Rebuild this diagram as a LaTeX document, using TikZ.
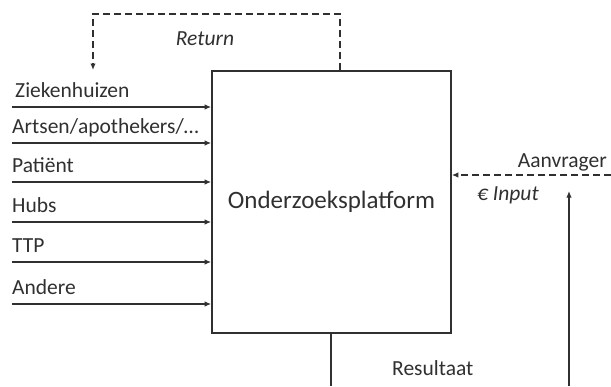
\documentclass[tikz,border=0pt]{standalone}
\usepackage{fontspec}
\setmainfont{Carlito}
\usetikzlibrary{arrows.meta}
\definecolor{ink}{HTML}{303030}
\begin{document}
\begin{tikzpicture}[x=1pt,y=-1pt,
  every node/.style={text=ink, inner sep=0pt, font=\fontsize{21.5}{24}\selectfont},
  tip/.style={-{Latex[length=6.5pt,width=5.5pt]}},
  flow/.style={draw=ink, line width=1.7pt, tip},
  plain/.style={draw=ink, line width=1.7pt},
  dashflow/.style={draw=ink, line width=1.3pt, dash pattern=on 7pt off 4pt},
  lbl/.style={anchor=base west},
  platformbox/.style={draw=ink, line width=1.7pt, rectangle, minimum width=239pt, minimum height=262pt, font=\fontsize{25}{28}\selectfont}]
\useasboundingbox (0,0) rectangle (611,386);

% central platform
\node[platformbox] (platform) at (331.5,202) {Onderzoeksplatform};

% data sources on the left
\foreach \name/\txt/\y/\lx in {zh/Ziekenhuizen/107/15, ar/Artsen\slash apothekers\slash \ldots/143/12,
    pa/Patiënt/182/12, hu/Hubs/222/12, tt/TTP/262/12, an/Andere/304/12} {
  \coordinate (\name) at (12,\y);
  \node[lbl] (\name-l) at (\lx,\y-9.5) {\txt};
  \draw[flow] (\name) -- (\name -| platform.west);
}

% return flow back to the sources
\coordinate (rtop) at (340,14);
\coordinate (ret) at (93,70);
\draw[dashflow, tip] (platform.north -| rtop) -- (rtop) -- (rtop -| ret) -- (ret);
\node[font=\itshape\fontsize{21.5}{24}\selectfont, anchor=base] (retl) at (205,45) {Return};

% requester input
\coordinate (req) at (611,175);
\draw[dashflow, tip] (req) -- (req -| platform.east);
\node[anchor=base east] (reql) at (607,167) {Aanvrager};
\node[anchor=base west, font=\itshape\fontsize{21.5}{24}\selectfont] (inl) at (477,200) {€ Input};

% result and loop back to the requester
\coordinate (res) at (331,386);
\draw[plain] (platform.south -| res) -- (res);
\node[anchor=base west] (resl) at (392,375) {Resultaat};
\coordinate (up0) at (569,386);
\coordinate (up1) at (569,191);
\draw[flow] (up0) -- (up1);
\end{tikzpicture}
\end{document}
